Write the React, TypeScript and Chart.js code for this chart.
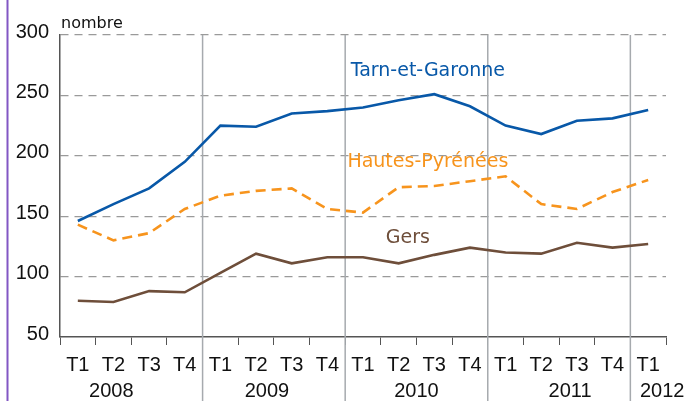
import React, { useEffect, useRef } from "react";
import { Chart, registerables } from "chart.js";

Chart.register(...registerables);

const quarters = ["T1","T2","T3","T4","T1","T2","T3","T4","T1","T2","T3","T4","T1","T2","T3","T4","T1"];
const years = ["2008", "2009", "2010", "2011", "2012"];
const yearStarts = [0, 4, 8, 12, 16];
const tarnEtGaronne = [146,160,173,195,225,224,235,237,240,246,251,241,225,218,229,231,238];
const hautesPyrenees = [143,130,136,156,167,171,173,156,153,174,175,179,183,160,156,170,180];
const gers = [80,79,88,87,103,119,111,116,116,111,118,124,120,119,128,124,127];
const yTicks = [50, 100, 150, 200, 250, 300];

const BLUE = "#0858a8";
const ORANGE = "#f7941d";
const BROWN = "#6e4e3a";

const seriesLabels = [
  { text: "Tarn-et-Garonne", x: 9.82, y: 266, color: BLUE },
  { text: "Hautes-Pyrénées", x: 9.82, y: 190.7, color: ORANGE },
  { text: "Gers", x: 9.26, y: 127.8, color: BROWN },
];

const yearOffsets = [-20, -7, 0, 11, 14];

const decorPlugin = {
  id: "decor",
  beforeDraw(chart: any) {
    const ctx = chart.ctx;
    ctx.save();
    ctx.fillStyle = "#ffffff";
    ctx.fillRect(0, 0, chart.width, chart.height);
    ctx.fillStyle = "#8257c4";
    ctx.fillRect(6.5, 0, 2, chart.height);
    ctx.restore();
  },
  beforeDatasetsDraw(chart: any) {
    const ctx = chart.ctx;
    const xs = chart.scales.x;
    const top = chart.chartArea.top;
    ctx.save();
    ctx.strokeStyle = "#a6aaae";
    ctx.lineWidth = 1.5;
    for (let k = 1; k < yearStarts.length; k++) {
      const i = yearStarts[k];
      const bx = (xs.getPixelForValue(i - 1) + xs.getPixelForValue(i)) / 2;
      ctx.beginPath();
      ctx.moveTo(bx, top);
      ctx.lineTo(bx, chart.height);
      ctx.stroke();
    }
    ctx.restore();
  },
  afterDraw(chart: any) {
    const ctx = chart.ctx;
    const xs = chart.scales.x;
    const ys = chart.scales.y;
    ctx.save();
    ctx.fillStyle = "#111111";
    ctx.font = "20px 'Liberation Sans', Arial, sans-serif";
    ctx.textAlign = "center";
    ctx.textBaseline = "alphabetic";
    for (let k = 0; k < years.length; k++) {
      const first = yearStarts[k];
      const last = k + 1 < yearStarts.length ? yearStarts[k + 1] - 1 : quarters.length - 1;
      const cx = (xs.getPixelForValue(first) + xs.getPixelForValue(last)) / 2 + yearOffsets[k];
      ctx.fillText(years[k], cx, 397);
    }
    ctx.font = "16px 'DejaVu Sans', sans-serif";
    ctx.textAlign = "left";
    ctx.fillText("nombre", chart.chartArea.left + 1, 28);
    ctx.font = "19px 'DejaVu Sans', sans-serif";
    ctx.textAlign = "center";
    for (const l of seriesLabels) {
      ctx.fillStyle = l.color;
      ctx.fillText(l.text, xs.getPixelForValue(l.x), ys.getPixelForValue(l.y));
    }
    ctx.restore();
  },
};

export default function App() {
  const ref = useRef<HTMLCanvasElement>(null);
  useEffect(() => {
    const chart = new Chart(ref.current as HTMLCanvasElement, {
      type: "line",
      data: {
        labels: quarters,
        datasets: [
          { label: "Tarn-et-Garonne", data: tarnEtGaronne, borderColor: BLUE, borderWidth: 2.6, pointRadius: 0, tension: 0, fill: false },
          { label: "Hautes-Pyrénées", data: hautesPyrenees, borderColor: ORANGE, borderWidth: 2.6, borderDash: [10, 6], pointRadius: 0, tension: 0, fill: false },
          { label: "Gers", data: gers, borderColor: BROWN, borderWidth: 2.6, pointRadius: 0, tension: 0, fill: false },
        ],
      },
      options: {
        responsive: false,
        animation: false,
        events: [],
        layout: { padding: { top: 35, right: 22, left: 0, bottom: 0 } },
        plugins: { legend: { display: false }, tooltip: { enabled: false } },
        scales: {
          x: {
            type: "category",
            offset: true,
            afterFit: (s: any) => { s.height = 64; },
            grid: { display: true, offset: true, drawOnChartArea: false, drawTicks: true, tickLength: 8, color: "#555555", lineWidth: 1 },
            border: { display: true, color: "#555555", width: 1.5 },
            ticks: { color: "#111111", font: { family: "'Liberation Sans', Arial, sans-serif", size: 20 }, padding: 8, maxRotation: 0, autoSkip: false },
          },
          y: {
            min: 50,
            max: 300,
            afterFit: (s: any) => { s.width = 60; },
            afterBuildTicks: (s: any) => { s.ticks = yTicks.map((v) => ({ value: v })); },
            grid: {
              drawTicks: false,
              color: (c: any) => (c.tick && c.tick.value === 50 ? "rgba(0,0,0,0)" : "#9a9a9a"),
              lineWidth: 1.3,
            },
            border: { display: true, color: "#555555", width: 1.5, dash: [8, 6] },
            ticks: { color: "#111111", font: { family: "'Liberation Sans', Arial, sans-serif", size: 20 }, padding: 11, labelOffset: -3 },
          },
        },
      },
      plugins: [decorPlugin],
    } as any);
    return () => chart.destroy();
  }, []);
  return (
    <div style={{ position: "fixed", left: 0, top: 0, width: 688, height: 401, background: "#fff" }}>
      <canvas ref={ref} width={688} height={401} style={{ display: "block" }} />
    </div>
  );
}
